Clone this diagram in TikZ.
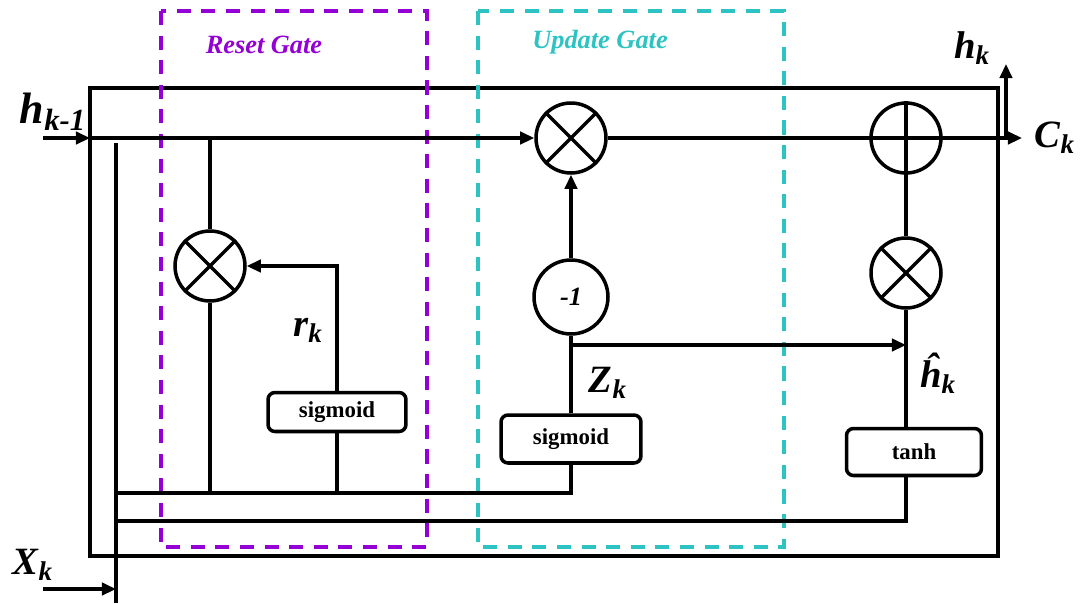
\documentclass[tikz,border=0pt]{standalone}
\usepackage{fontspec}
\setmainfont{Liberation Serif}
\usepackage{tikz}
\usetikzlibrary{arrows.meta}
\definecolor{GateViolet}{RGB}{148,0,211}
\definecolor{GateTeal}{RGB}{45,195,195}

\begin{document}
\begin{tikzpicture}[x=0.02cm, y=-0.02cm,
          wire/.style={line width=2pt},
          arr/.style={wire, -{Triangle[length=8pt, width=7pt]}},
          op/.style={circle, draw, line width=2pt, minimum size=1.4cm, inner sep=0pt},
          act/.style={rectangle, rounded corners=4pt, draw, line width=2pt,
                      font=\fontsize{13}{15}\selectfont\bfseries},
          lbl/.style={font=\fontsize{22}{24}\selectfont\bfseries\itshape, inner sep=0pt},
          gate/.style={line width=2.2pt, dash pattern=on 8pt off 6pt},
          gatename/.style={font=\fontsize{15}{17}\selectfont\bfseries\itshape}
        ]
        \useasboundingbox (0,0) rectangle (1080,603);

        % cell frame and gate regions
        \draw[wire] (90,88) rectangle (998,556);
        \draw[gate, GateViolet] (161,11) rectangle (427,547);
        \draw[gate, GateTeal]   (478,11) rectangle (784,547);
        \node[gatename, text=GateViolet] (resetname)  at (264,45) {Reset Gate};
        \node[gatename, text=GateTeal]   (updatename) at (600,42) {Update Gate};

        % operators
        \node[op] (mr) at (210,266) {};
        \node[op] (mu) at (571,138) {};
        \node[op, minimum size=1.48cm] (mn) at (571,297)
              {\fontsize{15}{17}\selectfont\bfseries\itshape -1};
        \node[op] (pl) at (906,138) {};
        \node[op] (mt) at (906,273) {};
        \foreach \n in {mr, mu, mt}
          \draw[wire] (\n.north west) -- (\n.south east) (\n.north east) -- (\n.south west);
        \draw[wire] (pl.north) -- (pl.south) (pl.west) -- (pl.east);

        % activations
        \node[act, minimum width=2.76cm, minimum height=0.78cm] (sg1) at (337,412) {sigmoid};
        \node[act, minimum width=2.8cm,  minimum height=0.96cm] (sg2) at (571,439) {sigmoid};
        \node[act, minimum width=2.7cm,  minimum height=0.94cm] (th)  at (914,452) {tanh};

        % labels
        \node[lbl, font=\fontsize{25}{27}\selectfont\bfseries\itshape] (hprev) at (53,112) {h\textsubscript{k-1}};
        \node[lbl] (hnext) at (972,48)   {h\textsubscript{k}};
        \node[lbl] (cnext) at (1055,138) {C\textsubscript{k}};
        \node[lbl] (xcur)  at (33,565)   {X\textsubscript{k}};
        \node[lbl] (rlbl)  at (308,330)  {r\textsubscript{k}};
        \node[lbl] (zlbl)  at (608,383)  {Z\textsubscript{k}};
        \node[lbl] (hhat)  at (938,373)  {ĥ\textsubscript{k}};

        \coordinate (hin)   at (43,138);
        \coordinate (hjoin) at (90,138);
        \coordinate (rtap)  at (210,138);
        \coordinate (cout)  at (1022,138);
        \coordinate (hup)   at (1006,138);
        \coordinate (hout)  at (1006,64);
        \coordinate (xin)   at (43,589);
        \coordinate (xjoin) at (116,589);
        \coordinate (xtop)  at (116,143);
        \coordinate (xbot)  at (116,603);
        \coordinate (bus1)  at (116,493);
        \coordinate (bus2)  at (116,521);
        \coordinate (zsplit) at (571,345);

        % state path
        \draw[arr]  (hin) -- (hjoin);
        \draw[arr]  (hjoin) -- (mu);
        \draw[wire] (mu) -- (pl);
        \draw[arr]  (pl) -- (cout);
        \draw[arr]  (hup) -- (hout);

        % reset gate
        \draw[wire] (rtap) -- (mr);
        \draw[wire] (mr) -- (mr |- bus1);
        \draw[arr]  (sg1) |- (mr);
        \draw[wire] (sg1) -- (sg1 |- bus1);

        % input and buses
        \draw[wire] (xtop) -- (xbot);
        \draw[arr]  (xin) -- (xjoin);
        \draw[wire] (bus1) -| (sg2);
        \draw[wire] (bus2) -| (mt |- th.south);

        % update gate and candidate
        \draw[wire] (sg2) -- (mn);
        \draw[arr]  (mn) -- (mu);
        \draw[arr]  (zsplit) -- (zsplit -| mt);
        \draw[wire] (mt |- th.north) -- (mt);
        \draw[wire] (mt) -- (pl);
      \end{tikzpicture}
\end{document}
